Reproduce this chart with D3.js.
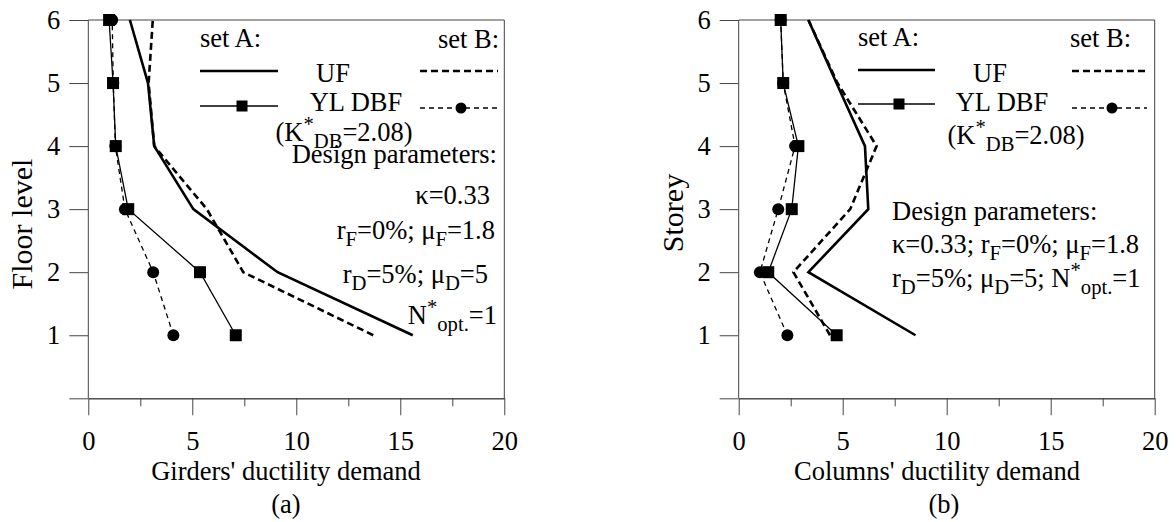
<!DOCTYPE html>
<html>
<head>
<meta charset="utf-8">
<script src="https://cdn.jsdelivr.net/npm/d3@7"></script>
<style>
  body { margin: 0; background: #fff; }
</style>
</head>
<body>
<div id="chart"></div>
<script>
{
// data (ductility demand per floor 1..6)
const floors = [1, 2, 3, 4, 5, 6];
const yTicks = [0, 1, 2, 3, 4, 5, 6];
const xMajor = [0, 5, 10, 15, 20];
const xMinor = [2.5, 7.5, 12.5, 17.5];

const girdersUF_A = [15.6, 9.1, 5.05, 3.17, 2.87, 2.0];
const girdersUF_B = [13.7, 7.45, 5.7, 3.17, 2.9, 3.1];
const girdersYL_A = [7.09, 5.37, 1.92, 1.32, 1.19, 1.0];
const girdersYL_B = [4.09, 3.12, 1.76, 1.3, 1.2, 1.15];

const columnsUF_A = [8.5, 3.35, 6.23, 6.07, 4.7, 3.35];
const columnsUF_B = [4.39, 2.63, 5.36, 6.63, 4.75, 3.35];
const columnsYL_A = [4.71, 1.42, 2.55, 2.87, 2.14, 2.02];
const columnsYL_B = [2.34, 1.02, 1.9, 2.71, 2.14, 2.02];

const width = 1176;
const height = 522;
const fs = 26.5;
const font = 'Liberation Serif';
const innerW = 416;
const innerH = 378.3;
const axisColor = '#444';

const svg = d3.select('#chart')
    .append('svg')
    .attr('width', width)
    .attr('height', height)
    .attr('font-family', font);

const x = d3.scaleLinear().domain([0, 20]).range([0, innerW]);
const y = d3.scaleLinear().domain([0, 6]).range([innerH, 0]);

const line = d3.line()
    .x(d => x(d[0]))
    .y(d => y(d[1]));

function addText(parent, px, py, anchor, size) {
    return parent.append('text')
        .attr('x', px)
        .attr('y', py)
        .attr('text-anchor', anchor)
        .attr('font-family', font)
        .attr('font-size', size)
        .attr('fill', '#000');
}

// text with sub/superscripts; parts: [text, kind] kind = '', 'sub', 'sup'
function richText(parent, px, py, parts, anchor, size) {
    const t = addText(parent, px, py, anchor, size);
    let shift = 0;
    parts.forEach(function(p) {
        let target = 0;
        let fsz = size;
        if (p[1] === 'sub') { target = size * 0.26; fsz = size * 0.78; }
        if (p[1] === 'sup') { target = -size * 0.36; fsz = size * 0.78; }
        t.append('tspan')
            .attr('dy', target - shift)
            .attr('font-size', fsz)
            .attr('font-family', font)
            .text(p[0]);
        shift = target;
    });
    return t;
}

function drawPanel(left, uA, uB, yA, yB, xTitle, xTitleX, letter, letterX, yTitle, yTitleY) {
    const g = svg.append('g').attr('transform', `translate(${left}, 20)`);

    // frame
    g.append('line')
        .attr('x1', 0).attr('x2', innerW).attr('y1', 0).attr('y2', 0)
        .attr('stroke', axisColor).attr('stroke-width', 1);
    g.append('line')
        .attr('x1', innerW).attr('x2', innerW).attr('y1', 0).attr('y2', innerH)
        .attr('stroke', axisColor).attr('stroke-width', 1);

    const yAxis = g.append('g')
        .call(d3.axisLeft(y).tickValues(yTicks).tickSize(19).tickSizeOuter(0).tickPadding(9)
            .tickFormat(d => d === 0 ? '' : d));
    const xAxis = g.append('g')
        .attr('transform', `translate(0, ${innerH})`)
        .call(d3.axisBottom(x).tickValues(xMajor).tickSize(17).tickSizeOuter(0).tickPadding(16));
    const xAxisMinor = g.append('g')
        .attr('transform', `translate(0, ${innerH})`)
        .call(d3.axisBottom(x).tickValues(xMinor).tickSize(8).tickSizeOuter(0).tickFormat(''));

    [yAxis, xAxis, xAxisMinor].forEach(function(a) {
        a.attr('font-family', font).attr('font-size', fs);
        a.selectAll('path, line').attr('stroke', axisColor).attr('stroke-width', 1);
        a.selectAll('text')
            .attr('font-family', font)
            .attr('font-size', fs)
            .attr('fill', '#000');
    });
    yAxis.select('.domain').remove();
    g.append('line')
        .attr('x1', 0).attr('x2', 0).attr('y1', 0).attr('y2', innerH)
        .attr('stroke', axisColor).attr('stroke-width', 1);

    const pts = arr => arr.map((v, i) => [v, floors[i]]);

    g.append('path').datum(pts(uA))
        .attr('d', line).attr('fill', 'none')
        .attr('stroke', '#000').attr('stroke-width', 2.6);
    g.append('path').datum(pts(uB))
        .attr('d', line).attr('fill', 'none')
        .attr('stroke', '#000').attr('stroke-width', 2.6)
        .attr('stroke-dasharray', '7,4');
    g.append('path').datum(pts(yB))
        .attr('d', line).attr('fill', 'none')
        .attr('stroke', '#000').attr('stroke-width', 1.3)
        .attr('stroke-dasharray', '5,4');
    g.append('path').datum(pts(yA))
        .attr('d', line).attr('fill', 'none')
        .attr('stroke', '#000').attr('stroke-width', 1.3);

    g.selectAll('circle.mk').data(pts(yB)).enter().append('circle')
        .attr('class', 'mk')
        .attr('cx', d => x(d[0])).attr('cy', d => y(d[1]))
        .attr('r', 6).attr('fill', '#000');
    g.selectAll('rect.mk').data(pts(yA)).enter().append('rect')
        .attr('class', 'mk')
        .attr('x', d => x(d[0]) - 6).attr('y', d => y(d[1]) - 6)
        .attr('width', 12).attr('height', 12).attr('fill', '#000');

    addText(svg, xTitleX, 480, 'middle', fs).text(xTitle);
    addText(svg, letterX, 513, 'middle', fs).text(letter);
    addText(svg, 0, 0, 'middle', 30)
        .attr('transform', `translate(${left - 56}, ${yTitleY}) rotate(-90)`)
        .text(yTitle);
}

drawPanel(88.3, girdersUF_A, girdersUF_B, girdersYL_A, girdersYL_B,
    "Girders' ductility demand", 286, '(a)', 286, 'Floor level', 224);
drawPanel(738.7, columnsUF_A, columnsUF_B, columnsYL_A, columnsYL_B,
    "Columns' ductility demand", 937, '(b)', 944, 'Storey', 213);

// legends
function legendLine(x1, x2, yy, dashed, thick) {
    svg.append('line')
        .attr('x1', x1).attr('x2', x2).attr('y1', yy).attr('y2', yy)
        .attr('stroke', '#000')
        .attr('stroke-width', thick ? 2.6 : 1.3)
        .attr('stroke-dasharray', dashed ? (thick ? '7,4' : '5,4') : null);
}
function plain(px, py, txt, anchor) {
    addText(svg, px, py, anchor, fs).text(txt);
}

const kPart = [['(K', ''], ['*', 'sup'], ['DB', 'sub'], ['=2.08)', '']];

// panel (a)
plain(200, 47, 'set A:', 'start');
plain(499, 48, 'set B:', 'end');
legendLine(200, 278, 71, false, true);
legendLine(200, 278, 106, false, false);
svg.append('rect').attr('x', 236.5).attr('y', 100.5).attr('width', 11).attr('height', 11).attr('fill', '#000');
legendLine(420, 498, 71, true, true);
legendLine(420, 498, 108, true, false);
svg.append('circle').attr('cx', 461).attr('cy', 108).attr('r', 5.5).attr('fill', '#000');
plain(333, 82, 'UF', 'middle');
plain(356, 111, 'YL DBF', 'middle');
richText(svg, 344, 141, kPart, 'middle', fs);
plain(497, 163, 'Design parameters:', 'end');
plain(490, 204, 'κ=0.33', 'end');
richText(svg, 495, 239, [['r', ''], ['F', 'sub'], ['=0%; μ', ''], ['F', 'sub'], ['=1.8', '']], 'end', fs);
richText(svg, 488, 283, [['r', ''], ['D', 'sub'], ['=5%; μ', ''], ['D', 'sub'], ['=5', '']], 'end', fs);
richText(svg, 497, 324, [['N', ''], ['*', 'sup'], ['opt.', 'sub'], ['=1', '']], 'end', fs);

// panel (b)
plain(858, 46, 'set A:', 'start');
plain(1070, 47, 'set B:', 'start');
legendLine(858, 935, 70, false, true);
legendLine(858, 935, 104, false, false);
svg.append('rect').attr('x', 893.5).attr('y', 98.5).attr('width', 11).attr('height', 11).attr('fill', '#000');
legendLine(1072, 1147, 71, true, true);
legendLine(1072, 1147, 108, true, false);
svg.append('circle').attr('cx', 1112).attr('cy', 108).attr('r', 5.5).attr('fill', '#000');
plain(990, 82, 'UF', 'middle');
plain(1002, 111, 'YL DBF', 'middle');
richText(svg, 1016, 144, kPart, 'middle', fs);
plain(892, 220, 'Design parameters:', 'start');
richText(svg, 892, 253, [['κ=0.33; r', ''], ['F', 'sub'], ['=0%; μ', ''], ['F', 'sub'], ['=1.8', '']], 'start', fs);
richText(svg, 892, 287, [['r', ''], ['D', 'sub'], ['=5%; μ', ''], ['D', 'sub'], ['=5; N', ''], ['*', 'sup'], ['opt.', 'sub'], ['=1', '']], 'start', fs);
}
</script>
</body>
</html>
